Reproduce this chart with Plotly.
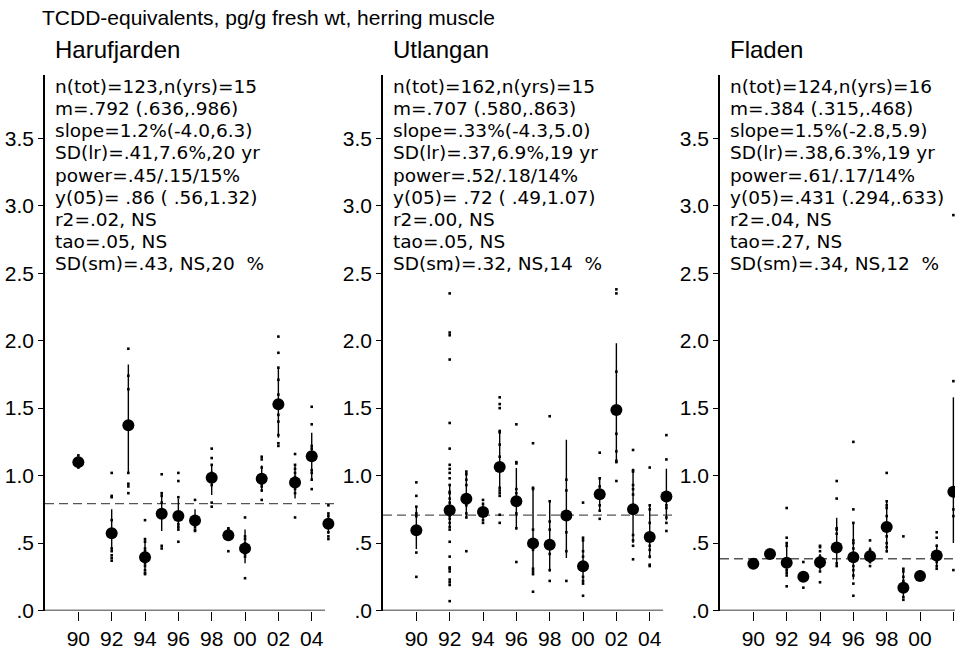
import plotly.graph_objects as go

# ---------------- data ----------------
site_names = ["Harufjarden", "Utlangan", "Fladen"]

stats_harufjarden = [
    "n(tot)=123,n(yrs)=15", "m=.792 (.636,.986)", "slope=1.2%(-4.0,6.3)",
    "SD(lr)=.41,7.6%,20 yr", "power=.45/.15/15%", "y(05)= .86 ( .56,1.32)",
    "r2=.02, NS", "tao=.05, NS", "SD(sm)=.43, NS,20  %",
]
stats_utlangan = [
    "n(tot)=162,n(yrs)=15", "m=.707 (.580,.863)", "slope=.33%(-4.3,5.0)",
    "SD(lr)=.37,6.9%,19 yr", "power=.52/.18/14%", "y(05)= .72 ( .49,1.07)",
    "r2=.00, NS", "tao=.05, NS", "SD(sm)=.32, NS,14  %",
]
stats_fladen = [
    "n(tot)=124,n(yrs)=16", "m=.384 (.315,.468)", "slope=1.5%(-2.8,5.9)",
    "SD(lr)=.38,6.3%,19 yr", "power=.61/.17/14%", "y(05)=.431 (.294,.633)",
    "r2=.04, NS", "tao=.27, NS", "SD(sm)=.34, NS,12  %",
]

overall_mean = [0.792, 0.707, 0.384]

# Harufjarden
h_years = [90, 92, 93, 94, 95, 96, 97, 98, 99, 100, 101, 102, 103, 104, 105]
h_mean = [1.10, 0.573, 1.374, 0.396, 0.718, 0.70, 0.667, 0.985, 0.558, 0.461,
          0.976, 1.529, 0.949, 1.143, 0.643]
h_lo = [1.06, 0.45, 1.027, 0.29, 0.59, 0.60, 0.61, 0.857, 0.52, 0.35,
        0.88, 1.28, 0.83, 0.966, 0.57]
h_hi = [1.14, 0.75, 1.823, 0.53, 0.87, 0.83, 0.75, 1.075, 0.60, 0.60,
        1.075, 1.80, 1.08, 1.318, 0.72]
h_values = [
    [1.15, 1.12, 1.07, 1.06],
    [1.02, 0.85, 0.84, 0.67, 0.60, 0.46, 0.44, 0.41, 0.39, 0.37],
    [1.94, 1.74, 1.64, 1.02, 0.94, 0.92, 0.87],
    [0.67, 0.53, 0.51, 0.46, 0.44, 0.35, 0.33, 0.30, 0.28, 0.27],
    [1.01, 0.87, 0.85, 0.80, 0.48, 0.46],
    [1.02, 0.96, 0.84, 0.68, 0.64, 0.62, 0.60, 0.51],
    [0.82, 0.62, 0.60, 0.59],
    [1.20, 1.13, 1.08, 1.02, 0.93, 0.80, 0.77],
    [0.61, 0.60, 0.53, 0.44],
    [0.69, 0.55, 0.53, 0.50, 0.42, 0.40, 0.24],
    [1.14, 1.12, 1.06, 1.00, 0.94, 0.92, 0.89, 0.82],
    [2.03, 1.91, 1.80, 1.71, 1.60, 1.45, 1.40, 1.30, 1.24, 1.22],
    [1.16, 1.08, 1.05, 1.02, 0.99, 0.96, 0.90, 0.87, 0.69],
    [1.51, 1.38, 1.22, 1.20, 1.04, 1.02, 0.97, 0.90],
    [0.78, 0.72, 0.70, 0.58, 0.55, 0.53],
]

# Utlangan
u_years = [90, 92, 93, 94, 95, 96, 97, 98, 99, 100, 101, 102, 103, 104, 105]
u_mean = [0.595, 0.743, 0.828, 0.73, 1.063, 0.811, 0.498, 0.488, 0.704, 0.328,
          0.862, 1.486, 0.75, 0.546, 0.845]
u_lo = [0.456, 0.626, 0.687, 0.67, 0.905, 0.60, 0.27, 0.29, 0.39, 0.20,
        0.735, 1.095, 0.50, 0.386, 0.67]
u_hi = [0.77, 0.94, 1.027, 0.80, 1.34, 1.056, 0.91, 0.81, 1.265, 0.536,
        0.99, 1.98, 1.05, 0.78, 1.05]
u_values = [
    [0.95, 0.85, 0.77, 0.72, 0.70, 0.43, 0.25],
    [2.53, 2.35, 2.06, 2.04, 1.86, 1.39, 1.20, 1.08, 1.05, 1.02, 0.98, 0.93,
     0.88, 0.87, 0.83, 0.80, 0.75, 0.72, 0.70, 0.68, 0.65, 0.62, 0.60, 0.51,
     0.40, 0.32, 0.31, 0.29, 0.23, 0.21, 0.19, 0.07],
    [1.03, 1.01, 0.97, 0.93, 0.85, 0.78, 0.72, 0.69, 0.44],
    [0.82, 0.79, 0.75, 0.70, 0.67, 0.65],
    [1.58, 1.53, 1.50, 1.33, 1.32, 1.23, 1.14, 0.91, 0.89, 0.87, 0.85, 0.71, 0.65],
    [1.38, 1.10, 1.09, 0.90, 0.87, 0.80, 0.72, 0.61, 0.36],
    [1.24, 0.91, 0.90, 0.60, 0.45, 0.31, 0.29, 0.27, 0.14],
    [1.44, 0.81, 0.66, 0.60, 0.52, 0.42, 0.30, 0.22],
    [0.97, 0.89, 0.58, 0.44, 0.22],
    [0.80, 0.54, 0.52, 0.44, 0.40, 0.25, 0.22, 0.20, 0.11],
    [1.17, 0.98, 0.92, 0.89, 0.85, 0.78, 0.74, 0.68],
    [2.38, 2.35, 1.77, 1.31, 1.18, 1.11, 1.10, 0.96],
    [1.19, 1.04, 1.03, 0.93, 0.90, 0.86, 0.56, 0.52, 0.48, 0.38],
    [1.06, 0.78, 0.75, 0.65, 0.48, 0.45, 0.40, 0.34, 0.33],
    [1.30, 1.12, 0.78, 0.76, 0.69, 0.65, 0.59],
]

# Fladen
f_years = [90, 91, 92, 93, 94, 95, 96, 97, 98, 99, 100, 101, 102]
f_mean = [0.347, 0.42, 0.354, 0.25, 0.359, 0.468, 0.396, 0.403, 0.619, 0.17,
          0.257, 0.408, 0.88]
f_lo = [0.33, 0.40, 0.27, 0.23, 0.30, 0.335, 0.23, 0.35, 0.43, 0.10,
        0.24, 0.32, 0.50]
f_hi = [0.37, 0.44, 0.505, 0.28, 0.42, 0.687, 0.65, 0.47, 0.808, 0.31,
        0.29, 0.49, 1.58]
f_values = [
    [0.37, 0.33],
    [0.44, 0.41],
    [0.76, 0.54, 0.50, 0.48, 0.30, 0.28, 0.26, 0.18],
    [0.36, 0.17],
    [0.48, 0.47, 0.44, 0.40, 0.38, 0.32, 0.29, 0.21],
    [0.96, 0.83, 0.61, 0.60, 0.57, 0.35, 0.33],
    [1.25, 0.75, 0.65, 0.52, 0.50, 0.46, 0.42, 0.38, 0.33, 0.30, 0.26, 0.20, 0.11],
    [0.52, 0.45, 0.38, 0.36, 0.33],
    [1.02, 0.81, 0.78, 0.76, 0.70, 0.55, 0.50, 0.47, 0.44],
    [0.55, 0.31, 0.29, 0.25, 0.22, 0.18, 0.14, 0.10, 0.08],
    [0.29, 0.26],
    [0.58, 0.54, 0.48, 0.44, 0.40, 0.36, 0.33, 0.31],
    [2.93, 1.70, 0.75, 0.70, 0.30],
]

y_tickvals = [0, 0.5, 1.0, 1.5, 2.0, 2.5, 3.0, 3.5]
y_ticktext = [".0", ".5", "1.0", "1.5", "2.0", "2.5", "3.0", "3.5"]
x_tickvals = [90, 92, 94, 96, 98, 100, 102, 104]
x_ticktext = ["90", "92", "94", "96", "98", "00", "02", "04"]

# ---------------- layout helpers ----------------
W, H = 955, 657
FONT = "Liberation Sans, Arial, sans-serif"
STATS_FONT = "DejaVu Sans, Verdana, sans-serif"
STATS_SIZE = 18.5
STATS_PITCH = 22.5        # distance between statistics lines (px)


def px_x(p):
    return p / W


def px_y(p):
    return 1 - p / H


YEAR_PX = 16.67
X_START = 88
AXIS_END = 104.8          # where the drawn x-axis line stops
axis_left = [45, 383, 720]
plot_top, plot_bottom = 76, 621
y_max = 3.97

panels = [
    (h_years, h_mean, h_lo, h_hi, h_values, stats_harufjarden),
    (u_years, u_mean, u_lo, u_hi, u_values, stats_utlangan),
    (f_years, f_mean, f_lo, f_hi, f_values, stats_fladen),
]

fig = go.Figure()
annotations = []
shapes = []

for i, (yrs, mean, lo, hi, vals, stats) in enumerate(panels):
    left = axis_left[i]
    right = min(left + 17.6 * YEAR_PX, W)
    x_hi = X_START + (right - left) / YEAR_PX
    xa = "x" if i == 0 else f"x{i+1}"
    ya = "y" if i == 0 else f"y{i+1}"
    xkey = "xaxis" if i == 0 else f"xaxis{i+1}"
    ykey = "yaxis" if i == 0 else f"yaxis{i+1}"

    fig.update_layout({
        xkey: dict(
            domain=[px_x(left), px_x(right)], range=[X_START, x_hi], anchor=ya,
            tickvals=x_tickvals, ticktext=x_ticktext, ticks="outside",
            ticklen=9, tickwidth=1.3, tickcolor="black", showline=False,
            showgrid=False, zeroline=False,
            tickfont=dict(family=FONT, size=21, color="black"),
        ),
        ykey: dict(
            domain=[px_y(plot_bottom), px_y(plot_top)], range=[0, y_max],
            anchor=xa, tickvals=y_tickvals, ticktext=y_ticktext,
            ticks="outside", ticklen=5, tickwidth=1.3, tickcolor="black",
            showline=True, linecolor="black", linewidth=1.5, showgrid=False,
            zeroline=False, tickfont=dict(family=FONT, size=21, color="black"),
        ),
    })

    # x-axis baseline
    shapes.append(dict(
        type="line", xref=xa, yref=ya, x0=X_START, x1=min(AXIS_END, x_hi),
        y0=0, y1=0, line=dict(color="black", width=1.5),
    ))

    # overall mean, dashed
    fig.add_trace(go.Scatter(
        x=[X_START, 106], y=[overall_mean[i]] * 2, mode="lines", xaxis=xa,
        yaxis=ya, line=dict(color="#555555", width=1.3, dash="9px,5px"),
        hoverinfo="skip", showlegend=False,
    ))

    # individual specimens
    dx, dy = [], []
    for yr, v in zip(yrs, vals):
        dx.extend([yr] * len(v))
        dy.extend(v)
    fig.add_trace(go.Scatter(
        x=dx, y=dy, mode="markers", xaxis=xa, yaxis=ya, cliponaxis=False,
        marker=dict(color="black", size=2.6, symbol="square"),
        showlegend=False,
    ))

    # yearly means with confidence intervals
    fig.add_trace(go.Scatter(
        x=yrs, y=mean, mode="markers", xaxis=xa, yaxis=ya, cliponaxis=False,
        marker=dict(color="black", size=12, line=dict(width=0)),
        error_y=dict(
            type="data", symmetric=False,
            array=[h - m for h, m in zip(hi, mean)],
            arrayminus=[m - l for m, l in zip(mean, lo)],
            width=0, thickness=1.4, color="black",
        ),
        showlegend=False,
    ))

    # panel title
    annotations.append(dict(
        text=site_names[i], xref="paper", yref="paper",
        x=px_x(left + 8), y=px_y(50), xanchor="left", yanchor="middle",
        showarrow=False, font=dict(family=FONT, size=24, color="black"),
    ))

    # statistics block
    for k, line in enumerate(stats):
        annotations.append(dict(
            text=line, xref="paper", yref="paper",
            x=px_x(left + 8), y=px_y(88 + k * STATS_PITCH), xanchor="left",
            yanchor="middle", showarrow=False,
            font=dict(family=STATS_FONT, size=STATS_SIZE, color="black"),
        ))

annotations.append(dict(
    text="TCDD-equivalents, pg/g fresh wt, herring muscle", xref="paper",
    yref="paper", x=px_x(40), y=px_y(18), xanchor="left", yanchor="middle",
    showarrow=False, font=dict(family=FONT, size=21, color="black"),
))

fig.update_layout(
    width=W, height=H, margin=dict(l=0, r=0, t=0, b=0),
    paper_bgcolor="white", plot_bgcolor="white",
    annotations=annotations, shapes=shapes, showlegend=False,
)

fig.write_html("out.html")
